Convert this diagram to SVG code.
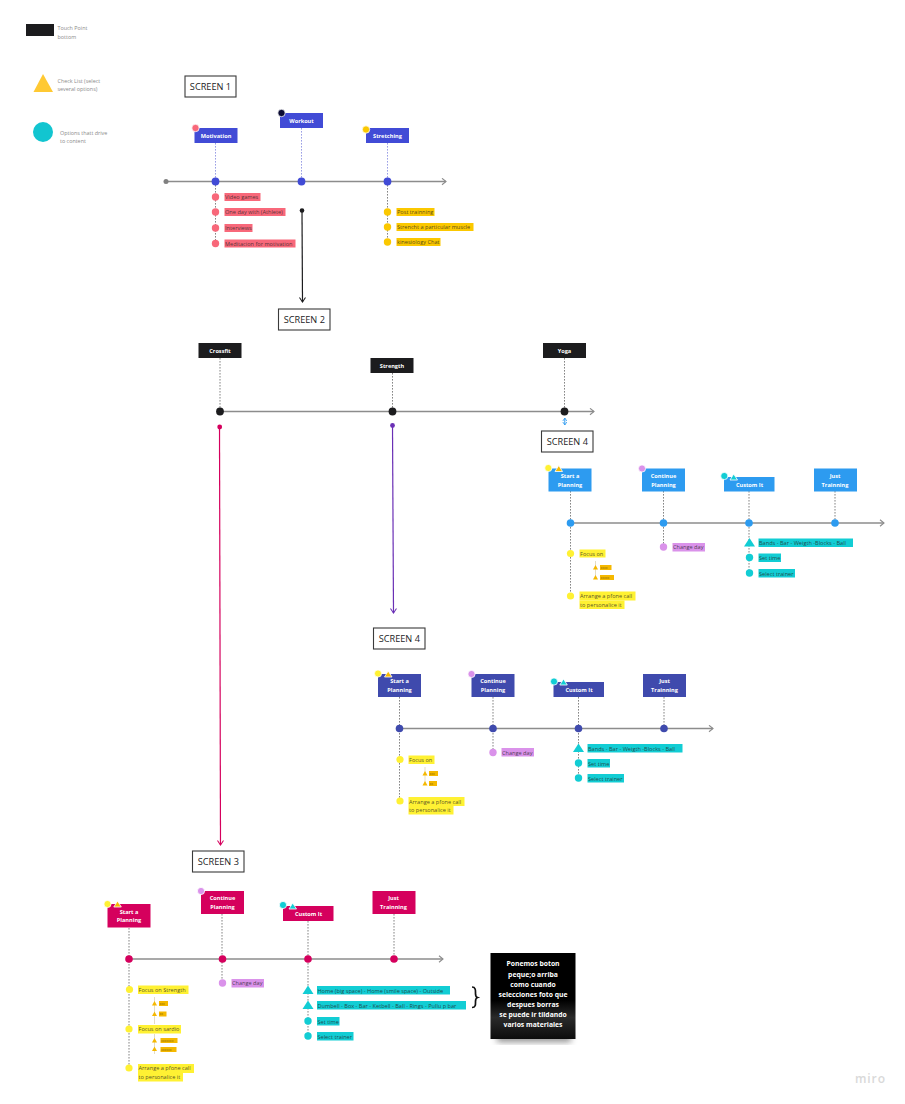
<svg xmlns="http://www.w3.org/2000/svg" width="905" height="1104" viewBox="0 0 905 1104">
<defs>
<marker id="ah" markerWidth="7" markerHeight="8" refX="5.500" refY="4" orient="auto" markerUnits="userSpaceOnUse"><path d="M1.500 .8L5.500 4L1.500 7.200" fill="none" stroke="#8c8c8c" stroke-width="1.100"/></marker>
<marker id="ak" markerWidth="7" markerHeight="8" refX="5.500" refY="4" orient="auto" markerUnits="userSpaceOnUse"><path d="M1 1L5.500 4L1 7" fill="none" stroke="#1c1c1e" stroke-width="1"/></marker>
<marker id="ap" markerWidth="7" markerHeight="8" refX="5.500" refY="4" orient="auto" markerUnits="userSpaceOnUse"><path d="M1 1L5.500 4L1 7" fill="none" stroke="#d5005d" stroke-width="1"/></marker>
<marker id="av" markerWidth="7" markerHeight="8" refX="5.500" refY="4" orient="auto" markerUnits="userSpaceOnUse"><path d="M1 1L5.500 4L1 7" fill="none" stroke="#6a2fb5" stroke-width="1"/></marker>
<marker id="ab" markerWidth="5" markerHeight="5" refX="3.500" refY="2.500" orient="auto-start-reverse" markerUnits="userSpaceOnUse"><path d="M.5 .5L3.500 2.500L.5 4.500" fill="none" stroke="#2d9bf0" stroke-width=".8"/></marker>
<filter id="sh" x="-20%" y="-20%" width="140%" height="150%"><feGaussianBlur stdDeviation="3"/></filter>
<linearGradient id="bk" x1="0" y1="0" x2="0" y2="1"><stop offset="0" stop-color="#000"/><stop offset=".55" stop-color="#000"/><stop offset=".75" stop-color="#2a2a2a"/><stop offset="1" stop-color="#0c0c0c"/></linearGradient>
</defs>
<style>
text{font-family:"Open Sans","Liberation Sans",sans-serif}
.leg{font-size:5.400px;fill:#8a8a8a}
.scr{font-size:9.200px;fill:#1c1c1e;text-anchor:middle}
.box{fill:#fff;stroke:#3a3a3a;stroke-width:1.100}
.btn{font-size:5.600px;font-weight:700;fill:#fff;text-anchor:middle}
.lab{font-size:5.600px;fill:#222;fill-opacity:.78}
.sub{font-size:3.400px;fill:#8a6a00}
.note{font-size:6.800px;font-weight:700;fill:#fff;text-anchor:middle}
.tl{stroke:#8c8c8c;stroke-width:1.500;fill:none}
.dot{stroke:#777;stroke-width:.9;stroke-dasharray:1.600 1.400;fill:none}
.dotb{stroke:#8e94e2;stroke-width:.9;stroke-dasharray:1.600 1.400;fill:none}
.w{stroke:#fff;stroke-width:.8}
.b1{fill:#414bd6}.b2{fill:#2d9bf0}.b3{fill:#3f4aad}.b4{fill:#d5005d}.b5{fill:#1c1c1e}
.pk{fill:#f8687a}.yl{fill:#fbc800}.ye{fill:#fff133}.pu{fill:#da92ea}.te{fill:#12cdd4}.og{fill:#f5b800}
</style>
<g id="connectors">
<path class="tl" d="M166 181.500H446" marker-end="url(#ah)"/>
<path class="dotb" d="M215.500 143V181M301.500 128V181M387.500 143V181"/>
<path class="dot" d="M215.500 182V243M387.500 182V242"/>
<path d="M302 211L302.500 302" stroke="#1c1c1e" stroke-width="1.200" fill="none" marker-end="url(#ak)"/>
<path class="tl" d="M220 411.500H594" marker-end="url(#ah)"/>
<path class="dot" d="M220 358V411M392.500 373V411M564.500 358V411"/>
<path d="M219.500 427L220.500 845" stroke="#d5005d" stroke-width="1.200" fill="none" marker-end="url(#ap)"/>
<path d="M392.500 426L393.500 613" stroke="#6a2fb5" stroke-width="1.200" fill="none" marker-end="url(#av)"/>
<path d="M564.800 418V425" stroke="#2d9bf0" stroke-width="1" fill="none" marker-start="url(#ab)" marker-end="url(#ab)"/>
<path class="tl" d="M570 523H884" marker-end="url(#ah)"/>
<path class="dot" d="M570.500 491V596M663.500 491V547M749 491V573M835 491V523"/>
<path d="M595.500 561V578" stroke="#c9b98a" stroke-width=".5"/>
<path class="tl" d="M399 728.500H713" marker-end="url(#ah)"/>
<path class="dot" d="M399.500 697V801M493 697V752M578.500 697V778M664 697V728"/>
<path d="M425 767V784" stroke="#c9b98a" stroke-width=".5"/>
<path class="tl" d="M129 959H443" marker-end="url(#ah)"/>
<path class="dot" d="M129 928V1068M222 914V983M308 921V1036M394 914V959"/>
<path d="M154.500 997V1024M154.500 1034V1054" stroke="#c9b98a" stroke-width=".5"/>
</g>
<g id="legend">
<rect x="26" y="24" width="28" height="12" fill="#1c1c1e"/>
<text class="leg" x="57.500" y="30">Touch Point</text><text class="leg" x="57.500" y="39">bottom</text>
<path d="M43 74L53 92H33.500Z" fill="#ffc933"/>
<text class="leg" x="57.500" y="83">Check List (select</text><text class="leg" x="57.500" y="91">several options)</text>
<circle cx="43" cy="132" r="10" fill="#12c5d0"/>
<text class="leg" x="60" y="135">Options thatt drive</text><text class="leg" x="60" y="143">to content</text>
</g>
<g id="screen-1"><rect class="box" x="185" y="76" width="51" height="21"/><text class="scr" x="210.500" y="90">SCREEN 1</text></g>
<g id="screen-2"><rect class="box" x="278.500" y="309" width="51.500" height="21"/><text class="scr" x="304.300" y="323">SCREEN 2</text></g>
<g id="screen-4a"><rect class="box" x="541.500" y="431" width="51.500" height="21"/><text class="scr" x="567.300" y="445">SCREEN 4</text></g>
<g id="screen-4b"><rect class="box" x="373.500" y="628" width="51.500" height="21"/><text class="scr" x="399.300" y="641.500">SCREEN 4</text></g>
<g id="screen-3"><rect class="box" x="192.500" y="851" width="51.500" height="21"/><text class="scr" x="218.300" y="865">SCREEN 3</text></g>

<g id="motivation"><rect class="b1" x="194.500" y="128" width="43" height="15"/><circle class="pk w" cx="195.500" cy="128" r="3.700"/><text class="btn" x="216" y="138">Motivation</text></g>
<g id="workout"><rect class="b1" x="280" y="113" width="43" height="15"/><circle class="w" fill="#0b0b33" cx="281.500" cy="113" r="3.700"/><text class="btn" x="301.500" y="123">Workout</text></g>
<g id="stretching"><rect class="b1" x="366" y="128" width="43" height="15"/><circle class="yl w" cx="366" cy="129.500" r="3.700"/><text class="btn" x="387.500" y="138">Stretching</text></g>
<g id="tl1-dots" class="b1"><circle cx="166" cy="181.500" r="2.500" style="fill:#808080"/><circle cx="215.500" cy="181.500" r="3.900"/><circle cx="301.500" cy="181.500" r="3.900"/><circle cx="387.500" cy="181.500" r="3.900"/><circle cx="302" cy="210.500" r="2.300" style="fill:#1c1c1e"/></g>
<g id="motivation-items">
<circle class="pk" cx="215.500" cy="197" r="3.700"/><rect class="pk" x="224.500" y="193" width="36" height="8"/><text class="lab" x="225" y="199">Video games</text>
<circle class="pk" cx="215.500" cy="212" r="3.700"/><rect class="pk" x="224.500" y="208" width="61" height="8"/><text class="lab" x="225" y="214">One day with (Athlete)</text>
<circle class="pk" cx="215.500" cy="228" r="3.700"/><rect class="pk" x="224.500" y="224" width="28" height="8"/><text class="lab" x="225" y="230">Interviews</text>
<circle class="pk" cx="215.500" cy="243.500" r="3.700"/><rect class="pk" x="224.500" y="239.500" width="71" height="8"/><text class="lab" x="225" y="245.500">Meditacion for motivation</text>
</g>
<g id="stretching-items">
<circle class="yl" cx="387.500" cy="212" r="3.700"/><rect class="yl" x="396.500" y="208" width="38" height="8"/><text class="lab" x="397" y="214">Post trainning</text>
<circle class="yl" cx="387.500" cy="227" r="3.700"/><rect class="yl" x="396.500" y="223" width="77" height="8"/><text class="lab" x="397" y="229">Strencht a particular muscle</text>
<circle class="yl" cx="387.500" cy="242" r="3.700"/><rect class="yl" x="396.500" y="238" width="44" height="8"/><text class="lab" x="397" y="244">kinesiology Chat</text>
</g>

<g id="crossfit"><rect class="b5" x="198.500" y="343" width="43" height="15"/><text class="btn" x="220" y="353">Crossfit</text></g>
<g id="strength"><rect class="b5" x="370.500" y="358" width="43" height="15"/><text class="btn" x="392" y="368">Strength</text></g>
<g id="yoga"><rect class="b5" x="543" y="343" width="43" height="15"/><text class="btn" x="564.500" y="353">Yoga</text></g>
<g id="tl2-dots" class="b5"><circle cx="220" cy="411.500" r="3.900"/><circle cx="392.500" cy="411.500" r="3.900"/><circle cx="564.500" cy="411.500" r="3.900"/><circle style="fill:#d5005d" cx="219.700" cy="427" r="2.400"/><circle style="fill:#6a2fb5" cx="392.500" cy="425.500" r="2.400"/></g>

<g id="a-start"><rect class="b2" x="548.500" y="468.500" width="43" height="23"/><circle class="ye w" cx="548.300" cy="468" r="3.600"/><path class="og w" d="M558.800 465.500L562.500 471.500H555Z"/><text class="btn"><tspan x="570" y="478">Start a</tspan><tspan x="570" y="486.500">Planning</tspan></text></g>
<g id="a-continue"><rect class="b2" x="642" y="468.500" width="43" height="23"/><circle class="pu w" cx="642" cy="468.500" r="3.600"/><text class="btn"><tspan x="663.500" y="478">Continue</tspan><tspan x="663.500" y="486.500">Planning</tspan></text></g>
<g id="a-custom"><rect class="b2" x="724" y="477" width="50.500" height="14.500"/><circle class="te w" cx="724.300" cy="476" r="3.600"/><path class="te w" d="M733.700 474L737.500 480H730Z"/><text class="btn" x="749.500" y="486.500">Custom It</text></g>
<g id="a-just"><rect class="b2" x="814" y="468.500" width="43" height="23"/><text class="btn"><tspan x="835" y="478">Just</tspan><tspan x="835" y="486.500">Trainning</tspan></text></g>
<g id="tl3-dots" class="b2"><circle cx="570.500" cy="523" r="3.800"/><circle cx="663.500" cy="523" r="3.800"/><circle cx="749" cy="523" r="3.800"/><circle cx="835" cy="523" r="3.800"/></g>
<g id="a-items">
<circle class="ye" cx="570.500" cy="553.500" r="3.600"/><rect class="ye" x="579.500" y="549.500" width="26" height="8"/><text class="lab" x="580" y="555.500">Focus on</text>
<path class="og" d="M595.500 565L598 569.500H593Z"/><rect class="og" x="600" y="565" width="11.500" height="5"/><text class="sub" x="600.500" y="568.800">xxxx</text>
<path class="og" d="M595.500 575L598 579.500H593Z"/><rect class="og" x="600" y="575" width="14" height="5"/><text class="sub" x="600.500" y="578.800">xxxxx</text>
<circle class="ye" cx="570.500" cy="596" r="3.600"/><rect class="ye" x="579.500" y="591.500" width="56" height="9"/><rect class="ye" x="579.500" y="600.500" width="45" height="8.500"/><text class="lab"><tspan x="580" y="597.700">Arrange a pfone call</tspan><tspan x="580" y="606.500">to personalice it</tspan></text>
<circle class="pu" cx="663.500" cy="547" r="3.700"/><rect class="pu" x="672.500" y="543" width="32.500" height="8.500"/><text class="lab" x="673" y="549">Change day</text>
<path class="te" d="M749.500 538L755 546.500H744Z"/><rect class="te" x="758.500" y="538.500" width="94.500" height="8.500"/><text class="lab" x="759" y="545">Bands - Bar - Weigth -Blocks - Ball</text>
<circle class="te" cx="749.500" cy="557.500" r="3.700"/><rect class="te" x="758.500" y="553.500" width="22.500" height="8.500"/><text class="lab" x="759" y="560">Set time</text>
<circle class="te" cx="749.500" cy="573" r="3.700"/><rect class="te" x="758.500" y="569" width="36.500" height="8.500"/><text class="lab" x="759" y="575.500">Select trainer</text>
</g>

<g id="b-start"><rect class="b3" x="378" y="674" width="43" height="23"/><circle class="ye w" cx="378" cy="673.500" r="3.600"/><path class="og w" d="M388.200 671L392 677H384.500Z"/><text class="btn"><tspan x="399.500" y="683">Start a</tspan><tspan x="399.500" y="692">Planning</tspan></text></g>
<g id="b-continue"><rect class="b3" x="471.500" y="674" width="43" height="23"/><circle class="pu w" cx="471.500" cy="674" r="3.600"/><text class="btn"><tspan x="493" y="683">Continue</tspan><tspan x="493" y="692">Planning</tspan></text></g>
<g id="b-custom"><rect class="b3" x="553.500" y="682" width="50.500" height="15"/><circle class="te w" cx="554" cy="681.500" r="3.600"/><path class="te w" d="M563.500 679L567.300 685H559.800Z"/><text class="btn" x="579" y="692">Custom It</text></g>
<g id="b-just"><rect class="b3" x="643" y="674" width="43" height="23"/><text class="btn"><tspan x="664.500" y="683">Just</tspan><tspan x="664.500" y="692">Trainning</tspan></text></g>
<g id="tl4-dots" class="b3"><circle cx="399.500" cy="728.500" r="3.800"/><circle cx="493" cy="728.500" r="3.800"/><circle cx="578.500" cy="728.500" r="3.800"/><circle cx="664" cy="728.500" r="3.800"/></g>
<g id="b-items">
<circle class="ye" cx="400" cy="759.500" r="3.600"/><rect class="ye" x="408.500" y="755.500" width="26" height="8.500"/><text class="lab" x="409" y="761.800">Focus on</text>
<path class="og" d="M425 771L427.500 775.500H422.500Z"/><rect class="og" x="429" y="771" width="9" height="5"/><text class="sub" x="429.500" y="774.800">xxx</text>
<path class="og" d="M425 781L427.500 785.500H422.500Z"/><rect class="og" x="429" y="781" width="8" height="5"/><text class="sub" x="429.500" y="784.800">xx</text>
<circle class="ye" cx="400" cy="801" r="3.600"/><rect class="ye" x="408.500" y="797" width="56" height="9"/><rect class="ye" x="408.500" y="806" width="45" height="8.500"/><text class="lab"><tspan x="409" y="803.500">Arrange a pfone call</tspan><tspan x="409" y="812">to personalice it</tspan></text>
<circle class="pu" cx="493" cy="752.500" r="3.700"/><rect class="pu" x="501.500" y="748" width="32.500" height="8.500"/><text class="lab" x="502" y="754.500">Change day</text>
<path class="te" d="M578.500 743.500L584 752H573Z"/><rect class="te" x="587.500" y="744" width="95" height="8.500"/><text class="lab" x="588" y="750.500">Bands - Bar - Weigth -Blocks - Ball</text>
<circle class="te" cx="578.500" cy="763" r="3.700"/><rect class="te" x="587.500" y="759" width="22.500" height="8.500"/><text class="lab" x="588" y="765.500">Set time</text>
<circle class="te" cx="578.500" cy="778" r="3.700"/><rect class="te" x="587.500" y="774" width="36.500" height="8.500"/><text class="lab" x="588" y="780.500">Select trainer</text>
</g>

<g id="c-start"><rect class="b4" x="107.500" y="904" width="43" height="23.500"/><circle class="ye w" cx="107.500" cy="904" r="3.600"/><path class="og w" d="M117.500 901L121.300 907H113.800Z"/><text class="btn"><tspan x="129" y="913.500">Start a</tspan><tspan x="129" y="922">Planning</tspan></text></g>
<g id="c-continue"><rect class="b4" x="201" y="891" width="43" height="23"/><circle class="pu w" cx="201" cy="891" r="3.600"/><text class="btn"><tspan x="222.500" y="900">Continue</tspan><tspan x="222.500" y="909">Planning</tspan></text></g>
<g id="c-custom"><rect class="b4" x="283" y="906" width="50.500" height="15"/><circle class="te w" cx="283" cy="905" r="3.600"/><path class="te w" d="M292.700 903L296.500 909H289Z"/><text class="btn" x="308.500" y="915.500">Custom It</text></g>
<g id="c-just"><rect class="b4" x="372.500" y="891" width="43" height="23"/><text class="btn"><tspan x="393.500" y="900">Just</tspan><tspan x="393.500" y="909">Trainning</tspan></text></g>
<g id="tl5-dots" class="b4"><circle cx="129" cy="959" r="3.800"/><circle cx="222.500" cy="959" r="3.800"/><circle cx="308" cy="959" r="3.800"/><circle cx="394" cy="959" r="3.800"/></g>
<g id="c-items">
<circle class="ye" cx="129.500" cy="989.500" r="3.600"/><rect class="ye" x="138" y="985.500" width="50.500" height="8.500"/><text class="lab" x="138.500" y="991.800">Focus on Strength</text>
<path class="og" d="M154.500 1001L157 1005.500H152Z"/><rect class="og" x="159" y="1001" width="9" height="5"/><text class="sub" x="159.500" y="1004.800">xxx</text>
<path class="og" d="M154.500 1011.500L157 1016H152Z"/><rect class="og" x="159" y="1011.500" width="7.500" height="5"/><text class="sub" x="159.500" y="1015.300">xx</text>
<circle class="ye" cx="129" cy="1029" r="3.600"/><rect class="ye" x="138" y="1025" width="43" height="8.500"/><text class="lab" x="138.500" y="1031.300">Focus on sardio</text>
<path class="og" d="M154.500 1038L157 1042.500H152Z"/><rect class="og" x="160.500" y="1038" width="17" height="5"/><text class="sub" x="161" y="1041.800">xxxxxxx</text>
<path class="og" d="M154.500 1046.500L157 1051H152Z"/><rect class="og" x="160.500" y="1047" width="16" height="5"/><text class="sub" x="161" y="1050.800">xxxxxx</text>
<circle class="ye" cx="129" cy="1068" r="3.600"/><rect class="ye" x="138" y="1064" width="56" height="9"/><rect class="ye" x="138" y="1073" width="45" height="8.500"/><text class="lab"><tspan x="138.500" y="1070.300">Arrange a pfone call</tspan><tspan x="138.500" y="1079">to personalice it</tspan></text>
<circle class="pu" cx="222.500" cy="983" r="3.700"/><rect class="pu" x="231.500" y="979" width="32.500" height="8.500"/><text class="lab" x="232" y="985">Change day</text>
<path class="te" d="M308 985.500L313.500 994H302.500Z"/><rect class="te" x="317" y="986" width="133" height="8.500"/><text class="lab" x="317.500" y="992.500">Home (big space) - Home (smile space) - Outside</text>
<path class="te" d="M308 1000.500L313.500 1009H302.500Z"/><rect class="te" x="317" y="1001" width="149" height="8.500"/><text class="lab" x="317.500" y="1007.500">Dumbell - Box - Bar - Ketbell - Ball - Rings - Pullu p bar</text>
<circle class="te" cx="308" cy="1021" r="3.700"/><rect class="te" x="317" y="1017" width="22.500" height="8.500"/><text class="lab" x="317.500" y="1023.500">Set time</text>
<circle class="te" cx="308" cy="1036" r="3.700"/><rect class="te" x="317" y="1032" width="36.500" height="8.500"/><text class="lab" x="317.500" y="1038.500">Select trainer</text>
</g>
<g id="brace"><path d="M472 987C476 987 475.500 991 475.500 993.500C475.500 996 476 997 477.500 997.500C476 998 475.500 999 475.500 1001.500C475.500 1004 476 1007.500 472 1007.500" fill="none" stroke="#111" stroke-width="1.700"/></g>
<g id="note">
<rect x="497" y="1034" width="74" height="8" fill="#555" opacity=".65" filter="url(#sh)"/>
<rect x="490.500" y="953" width="85" height="86" fill="url(#bk)"/>
<text class="note"><tspan x="533" y="966">Ponemos boton</tspan><tspan x="533" y="977">peque;o arriba</tspan><tspan x="533" y="987">como cuando</tspan><tspan x="533" y="997">selecciones foto que</tspan><tspan x="533" y="1007">despues borras</tspan><tspan x="533" y="1017">se puede ir tildando</tspan><tspan x="533" y="1026.500">varios materiales</tspan></text>
</g>
<text id="miro" x="855" y="1083" font-size="12" font-weight="600" letter-spacing=".9" fill="#d9d9d9">miro</text>
</svg>
